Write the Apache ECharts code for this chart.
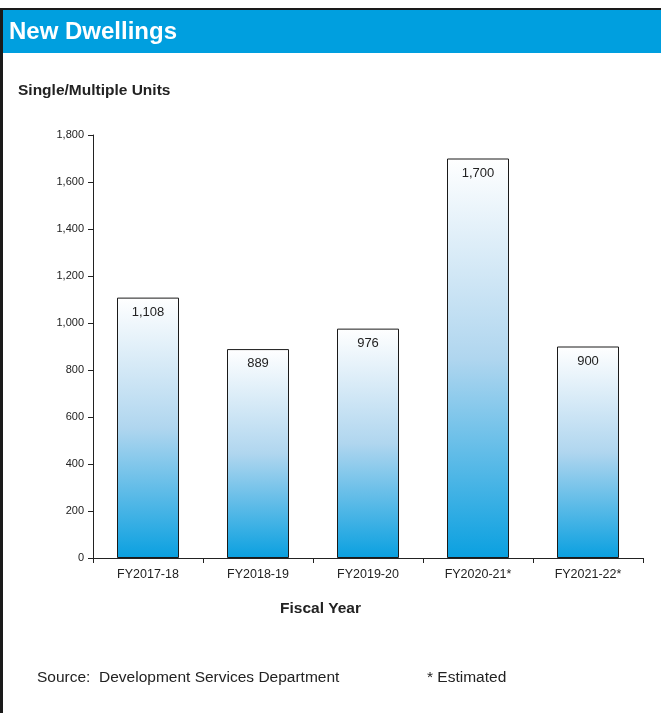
<!DOCTYPE html>
<html><head><meta charset="utf-8">
<script src="https://cdn.jsdelivr.net/npm/echarts@6/dist/echarts.min.js"></script>
<style>html,body{margin:0;padding:0;background:#fff}#c{width:661px;height:713px}</style>
</head><body><div id="c"></div>
<script>
const categories = ['FY2017-18','FY2018-19','FY2019-20','FY2020-21*','FY2021-22*'];
const units = [1108, 889, 976, 1700, 900];
const yTicks = {min: 0, max: 1800, interval: 200};

const F = '"Liberation Sans", Arial, sans-serif';
const chart = echarts.init(document.getElementById('c'));
chart.setOption({
  animation: false,
  textStyle: {fontFamily: F},
  grid: {left: 93, right: 18, top: 135, bottom: 155},
  graphic: [
    {type: 'rect', shape: {x: 0, y: 8, width: 661, height: 2}, style: {fill: '#1a1a1a'}},
    {type: 'rect', shape: {x: 0, y: 8, width: 3, height: 705}, style: {fill: '#1a1a1a'}},
    {type: 'rect', shape: {x: 3, y: 10, width: 658, height: 43}, style: {fill: '#009fdf'}},
    {type: 'text', left: 9, top: 20, style: {text: 'New Dwellings', fill: '#fff', font: 'bold 24px ' + F}},
    {type: 'text', left: 18, top: 83, style: {text: 'Single/Multiple Units', fill: '#222', font: 'bold 15.5px ' + F}},
    {type: 'text', left: 280, top: 601, style: {text: 'Fiscal Year', fill: '#222', font: 'bold 15.5px ' + F}},
    {type: 'text', left: 37, top: 670, style: {text: 'Source:  Development Services Department', fill: '#222', font: '15.5px ' + F}},
    {type: 'text', left: 427, top: 670, style: {text: '* Estimated', fill: '#222', font: '15.5px ' + F}}
  ],
  xAxis: {
    type: 'category', data: categories,
    axisLine: {lineStyle: {color: '#222', width: 1}},
    axisTick: {show: true, length: 5, lineStyle: {color: '#222'}},
    axisLabel: {color: '#222', fontSize: 12.5, margin: 10, fontFamily: F}
  },
  yAxis: {
    type: 'value', min: yTicks.min, max: yTicks.max, interval: yTicks.interval,
    axisLine: {show: true, lineStyle: {color: '#222', width: 1}},
    axisTick: {show: true, length: 5, lineStyle: {color: '#222'}},
    splitLine: {show: false},
    axisLabel: {color: '#222', fontSize: 11, margin: 9, fontFamily: F,
      formatter: v => v.toLocaleString('en-US')}
  },
  series: [{
    type: 'bar', data: units, barWidth: 62,
    itemStyle: {
      borderColor: '#1a1a1a', borderWidth: 1,
      color: new echarts.graphic.LinearGradient(0, 0, 0, 1, [
        {offset: 0, color: '#ffffff'},
        {offset: 0.5, color: '#b0d6ef'},
        {offset: 1, color: '#0aa0e0'}
      ])
    },
    label: {show: true, position: 'insideTop', distance: 8, color: '#222', fontSize: 13, fontFamily: F,
      formatter: p => p.value.toLocaleString('en-US')}
  }]
});
</script></body></html>
